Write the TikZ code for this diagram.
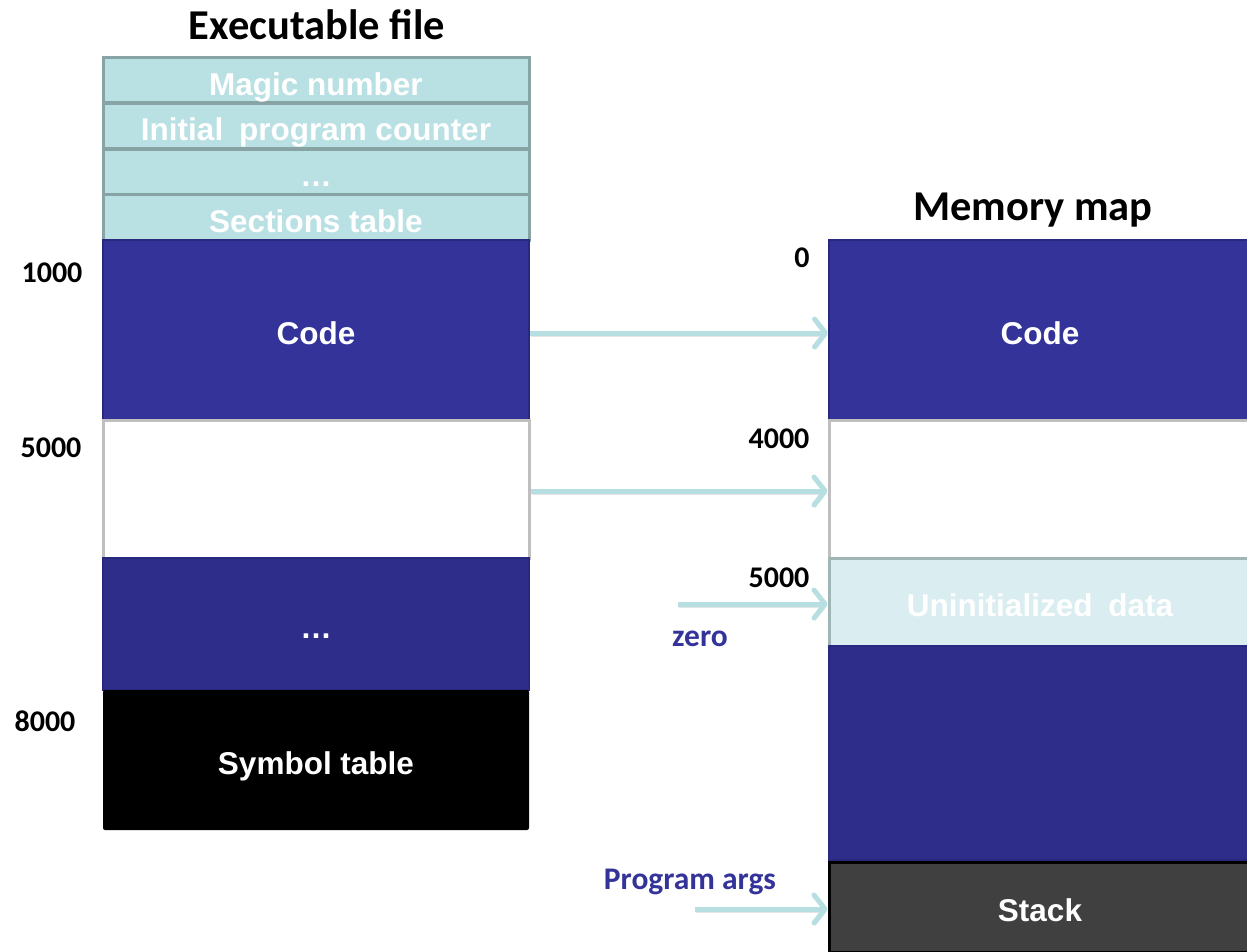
\documentclass[tikz,border=0pt]{standalone}
\usepackage{fontspec}
\setmainfont{Liberation Sans}
\newfontfamily\calfont{Carlito}
\usetikzlibrary{arrows.meta}

\definecolor{hdrfill}{HTML}{B9E0E3}
\definecolor{hdrline}{HTML}{87A3A4}
\definecolor{codeblue}{HTML}{333399}
\definecolor{deepblue}{HTML}{2E2E8A}
\definecolor{blueline}{HTML}{28287E}
\definecolor{gapline}{HTML}{BFBFBF}
\definecolor{bssfill}{HTML}{DAEDF0}
\definecolor{bssline}{HTML}{A0B5B5}
\definecolor{stackfill}{HTML}{404040}
\definecolor{arrowc}{HTML}{B7DFE2}

\tikzset{
  seg/.style={rectangle, inner sep=0pt, text height=29.5pt, text depth=0pt,
    font=\fontsize{31.5}{31.5}\selectfont\bfseries, text=white},
  lcol/.style={seg, minimum width=426pt},
  rcol/.style={seg, minimum width=422pt},
  hdr/.style={lcol, fill=hdrfill, draw=hdrline, line width=3pt, minimum height=45pt},
  navy/.style={fill=codeblue, draw=blueline, line width=2pt},
  darknavy/.style={fill=deepblue, draw=blueline, line width=2pt},
  gapbox/.style={fill=white, draw=gapline, line width=3pt},
  addr/.style={anchor=base, inner sep=0pt, font=\calfont\fontsize{30}{30}\selectfont\bfseries},
  title/.style={anchor=base, inner sep=0pt, font=\calfont\fontsize{42.5}{42.5}\selectfont\bfseries},
  note/.style={anchor=base, inner sep=0pt, text=codeblue, font=\calfont\fontsize{31.5}{31.5}\selectfont\bfseries},
  feed/.style={draw=arrowc, line width=5pt,
    -{Straight Barb[length=11pt,width=28pt,round]},
    preaction={draw=black, opacity=0.10,
      transform canvas={xshift=1pt,yshift=-3pt}}},
}

\begin{document}
\begin{tikzpicture}[x=1pt,y=-1pt]
\useasboundingbox (0,0) rectangle (1247,952);

% ---- executable file layout ----
\node[title] (ftitle) at (317,40) {Executable file};

\node[hdr] (magic) at (316,80.5)  {Magic number};
\node[hdr] (ipc)   at (316,126)   {Initial\hspace{7pt} program counter};
\node[hdr] (hdots) at (316,172)   {…};
\node[hdr] (sect)  at (316,217.5) {Sections table};

\node[lcol, navy, minimum height=180pt] (code) at (316,330) {Code};
\node[lcol, gapbox, minimum height=138pt] (gap) at (316,489) {};
\node[lcol, darknavy, minimum height=132pt] (fdots) at (316,624) {…};
\node[lcol, fill=black, rounded corners=2pt, minimum height=140pt] (sym) at (316,760) {Symbol table};

\node[addr] (a1000) at (52,282) {1000};
\node[addr] (a5000) at (51,457) {5000};
\node[addr] (a8000) at (45,731) {8000};

% ---- memory map ----
\node[title] (mtitle) at (1033,221) {Memory map};

\node[rcol, navy, minimum height=180pt] (mcode) at (1040,330) {Code};
\node[rcol, gapbox, minimum height=138pt] (mgap) at (1040,489) {};
\node[rcol, fill=bssfill, draw=bssline, line width=3pt, minimum height=88pt] (bss) at (1040,602) {Uninitialized\hspace{7pt} data};
\node[rcol, darknavy, minimum height=214pt] (heap) at (1040,753) {};
\node[rcol, fill=stackfill, draw=black, line width=3pt, minimum height=90pt] (stack) at (1040,907) {Stack};

\node[addr] (m0)    at (802,267) {0};
\node[addr] (m4000) at (779,448) {4000};
\node[addr] (m5000) at (779,587) {5000};

\node[note] (zero) at (700,646) {zero};
\node[note] (args) at (690,889) {Program args};

% ---- loading arrows ----
\coordinate (zsrc) at (678,604);
\coordinate (asrc) at (695,909);

\draw[feed] ([yshift=-3pt]code.east) -- ([yshift=-3pt]mcode.west);
\draw[feed] ([yshift=-2pt]gap.east) -- ([yshift=-2pt]mgap.west);
\draw[feed] (zsrc) -- (zsrc -| bss.west);
\draw[feed] (asrc) -- (asrc -| stack.west);
\end{tikzpicture}
\end{document}
